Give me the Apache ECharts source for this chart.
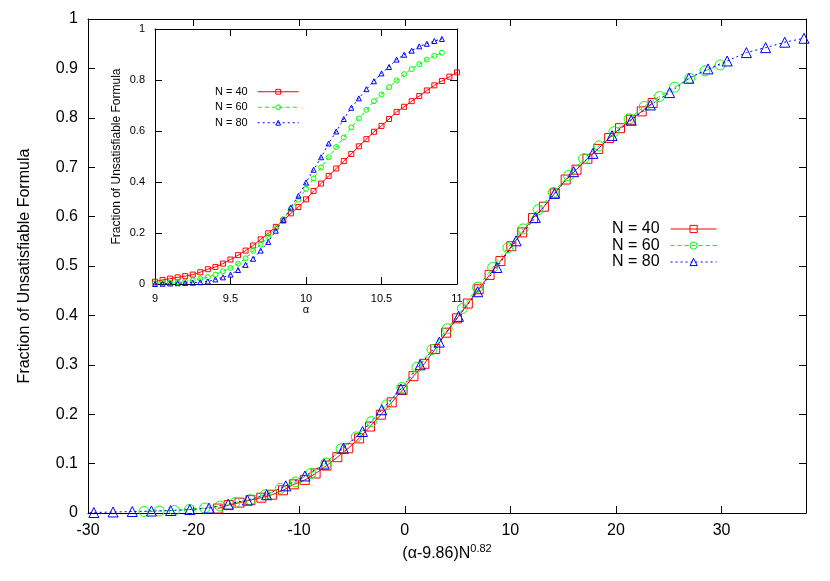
<!DOCTYPE html>
<html>
<head>
<meta charset="utf-8">
<script src="https://cdn.jsdelivr.net/npm/echarts@6/dist/echarts.min.js"></script>
<style>html,body{margin:0;padding:0;background:#fff;}#c{width:830px;height:581px;}</style>
</head>
<body>
<div id="c"></div>
<script>
// ---- data ----
const sizes = [40, 60, 80];
const seriesNames = ['N = 40', 'N = 60', 'N = 80'];
const alphaC = 9.86;      // from the x-axis label (α-9.86)N^0.82
const scaleExp = 0.82;

const alpha40 = [9.00,9.05,9.10,9.15,9.20,9.25,9.30,9.35,9.40,9.45,9.50,9.55,9.60,9.65,9.70,9.75,9.80,9.85,9.90,9.95,
                 10.00,10.05,10.10,10.15,10.20,10.25,10.30,10.35,10.40,10.45,10.50,10.55,10.60,10.65,10.70,10.75,10.80,10.85,10.90,10.95,11.00];
const frac40 = [0.009,0.016,0.021,0.026,0.031,0.037,0.046,0.058,0.067,0.080,0.096,0.113,0.131,0.151,0.175,0.199,0.224,0.249,0.277,0.302,
                0.332,0.365,0.394,0.424,0.453,0.482,0.510,0.540,0.568,0.597,0.620,0.647,0.675,0.695,0.717,0.737,0.759,0.779,0.796,0.813,0.830];

const alpha60 = [9.00,9.05,9.10,9.15,9.20,9.25,9.30,9.35,9.40,9.45,9.50,9.55,9.60,9.65,9.70,9.75,9.80,9.85,9.90,9.95,
                 10.00,10.05,10.10,10.15,10.20,10.25,10.30,10.35,10.40,10.45,10.50,10.55,10.60,10.65,10.70,10.75,10.80,10.85,10.90];
const frac60 = [0.003,0.004,0.005,0.007,0.010,0.014,0.021,0.027,0.037,0.050,0.063,0.080,0.101,0.130,0.154,0.185,0.219,0.254,0.295,0.331,
                0.373,0.414,0.457,0.497,0.537,0.575,0.614,0.649,0.683,0.717,0.743,0.772,0.798,0.823,0.843,0.862,0.880,0.895,0.907];

const alpha80 = [9.00,9.05,9.10,9.15,9.20,9.25,9.30,9.35,9.40,9.45,9.50,9.55,9.60,9.65,9.70,9.75,9.80,9.85,9.90,9.95,
                 10.00,10.05,10.10,10.15,10.20,10.25,10.30,10.35,10.40,10.45,10.50,10.55,10.60,10.65,10.70,10.75,10.80,10.85,10.90];
const frac80 = [0.000,0.001,0.002,0.003,0.004,0.005,0.007,0.010,0.018,0.026,0.037,0.055,0.075,0.099,0.131,0.165,0.209,0.251,0.300,0.346,
                0.398,0.448,0.497,0.551,0.598,0.647,0.691,0.728,0.764,0.795,0.826,0.851,0.880,0.899,0.915,0.932,0.942,0.953,0.961];

const mainXTicks = {min: -30, max: 38, interval: 10};
const mainYTicks = {min: 0, max: 1, interval: 0.1};
const insetXTicks = {min: 9, max: 11, interval: 0.5};
const insetYTicks = {min: 0, max: 1, interval: 0.2};

// ---- build ----
const alphas = [alpha40, alpha60, alpha80];
const fracs = [frac40, frac60, frac80];
const colors = ['#ff0000', '#00ff00', '#0000ff'];
const symbols = ['rect', 'circle', 'triangle'];
const dashes = ['solid', [4, 3], [2, 3]];
const mainSym = [9, 10, 10];
const insetSym = [5, 5, 5];
const FONT = 'Liberation Sans, Arial, sans-serif';

function axisBase(gi, pos, rng, fs, showLabel, margin) {
  const steps = (rng.max - rng.min) / rng.interval;
  return {
    gridIndex: gi, type: 'value', position: pos,
    min: rng.min, max: rng.max, interval: rng.interval,
    axisLine: {show: true, onZero: false, lineStyle: {color: '#000', width: 1}},
    axisTick: {show: true, inside: true, length: 7, lineStyle: {color: '#000', width: 1}},
    axisLabel: {show: showLabel, fontSize: fs, color: '#000', fontFamily: FONT, margin: margin,
      showMaxLabel: Math.abs(steps - Math.round(steps)) < 1e-9},
    splitLine: {show: false}
  };
}

const xAxes = [
  Object.assign(axisBase(0, 'bottom', mainXTicks, 16, true, 10), {
    name: '(α-9.86)N{s|0.82}', nameLocation: 'middle', nameGap: 28,
    nameTextStyle: {fontSize: 16, color: '#000', fontFamily: FONT,
      rich: {s: {fontSize: 11, fontFamily: FONT, color: '#000', verticalAlign: 'top', padding: [0, 0, 9, 0]}}}
  }),
  axisBase(0, 'top', mainXTicks, 16, false, 10),
  Object.assign(axisBase(1, 'bottom', insetXTicks, 11, true, 9), {
    name: 'α', nameLocation: 'middle', nameGap: 18,
    nameTextStyle: {fontSize: 11, color: '#000', fontFamily: FONT}
  }),
  axisBase(1, 'top', insetXTicks, 11, false, 9)
];
const yAxes = [
  Object.assign(axisBase(0, 'left', mainYTicks, 16, true, 10), {
    name: 'Fraction of Unsatisfiable Formula', nameLocation: 'middle', nameGap: 55,
    nameTextStyle: {fontSize: 16, color: '#000', fontFamily: FONT}
  }),
  axisBase(0, 'right', mainYTicks, 16, false, 10),
  Object.assign(axisBase(1, 'left', insetYTicks, 11, true, 10), {
    name: 'Fraction of Unsatisfiable Formula', nameLocation: 'middle', nameGap: 32,
    nameTextStyle: {fontSize: 12, color: '#000', fontFamily: FONT}
  }),
  axisBase(1, 'right', insetYTicks, 11, false, 10)
];

const series = [];
for (let k = 0; k < 3; k++) {
  const f = Math.pow(sizes[k], scaleExp);
  const mainData = alphas[k].map((a, i) => [(a - alphaC) * f, fracs[k][i]]);
  const insetData = alphas[k].map((a, i) => [a, fracs[k][i]]);
  series.push({
    name: seriesNames[k], type: 'line', xAxisIndex: 0, yAxisIndex: 0,
    data: mainData, symbol: symbols[k], symbolSize: mainSym[k], showSymbol: true, clip: true,
    lineStyle: {color: colors[k], width: 1, type: dashes[k]},
    itemStyle: {color: 'rgba(0,0,0,0)', borderColor: colors[k], borderWidth: 1},
    emphasis: {disabled: true}, z: 3 + k
  });
  series.push({
    name: seriesNames[k] + ' ', type: 'line', xAxisIndex: 2, yAxisIndex: 2,
    data: insetData, symbol: symbols[k], symbolSize: insetSym[k], showSymbol: true, clip: true,
    lineStyle: {color: colors[k], width: 1, type: dashes[k]},
    itemStyle: {color: 'rgba(0,0,0,0)', borderColor: colors[k], borderWidth: 1},
    emphasis: {disabled: true}, z: 3 + k
  });
}

const option = {
  animation: false,
  backgroundColor: '#fff',
  grid: [
    {left: 88, top: 19, width: 718, height: 494, containLabel: false},
    {left: 155, top: 29, width: 302, height: 255, containLabel: false, show: true, backgroundColor: '#fff', borderWidth: 0}
  ],
  xAxis: xAxes,
  yAxis: yAxes,
  legend: [
    {
      data: seriesNames, left: 607, top: 216, orient: 'vertical', align: 'right',
      itemWidth: 46, itemHeight: 9, itemGap: 0.5, selectedMode: false,
      lineStyle: {width: 1},
      itemStyle: {borderWidth: 1},
      textStyle: {fontSize: 16, lineHeight: 15, color: '#000', fontFamily: FONT, padding: [0, 6, 0, 0]}
    },
    {
      data: seriesNames.map(n => n + ' '), left: 210, top: 81, orient: 'vertical', align: 'right',
      itemWidth: 41, itemHeight: 6, itemGap: 4, selectedMode: false,
      lineStyle: {width: 1},
      itemStyle: {borderWidth: 1},
      formatter: n => n.trim(),
      textStyle: {fontSize: 11, lineHeight: 11.5, color: '#000', fontFamily: FONT, padding: [0, 5, 0, 0]}
    }
  ],
  series: series
};

const chart = echarts.init(document.getElementById('c'), null, {renderer: 'canvas'});
chart.setOption(option);
</script>
</body>
</html>
